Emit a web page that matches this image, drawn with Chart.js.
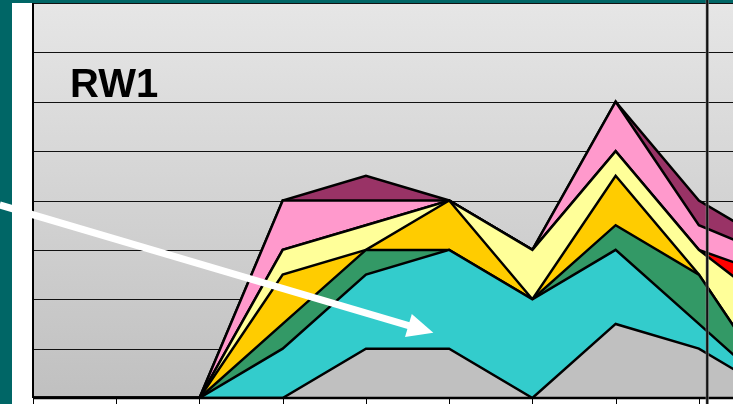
<!DOCTYPE html>
<html>
<head>
<meta charset="utf-8">
<script src="https://cdn.jsdelivr.net/npm/chart.js@4.4.0/dist/chart.umd.min.js"></script>
<style>
  body { margin: 0; background: #fff; }
  canvas { display: block; }
</style>
</head>
<body>
<canvas id="myChart" width="733" height="404"></canvas>
<script>
// positions along the x axis (only part of the last one is visible)
const periods = [0, 1, 2, 3, 4, 5, 6, 7, 8, 9];

// stacked series, bottom to top
const silverValues  = [0, 0, 0, 0,   1,   1, 0, 1.5, 1,   0];
const cyanValues    = [0, 0, 0, 1,   1.5, 2, 2, 1.5, 0.5, 0];
const greenValues   = [0, 0, 0, 0.5, 0.5, 0, 0, 0.5, 1,   0];
const goldValues    = [0, 0, 0, 1,   0,   1, 0, 1,   0,   0];
const yellowValues  = [0, 0, 0, 0.5, 0.5, 0, 1, 0.5, 0.5, 1.7];
const redValues     = [0, 0, 0, 0,   0,   0, 0, 0,   0,   0.7];
const pinkValues    = [0, 0, 0, 1,   0.5, 0, 0, 1,   0.5, 0.4];
const plumValues    = [0, 0, 0, 0,   0.5, 0, 0, 0,   0.5, 0.2];

const yTicks = [0, 1, 2, 3, 4, 5, 6, 7, 8];
const markerAt = 8.1;
const arrowFrom = { x: -0.4, y: 3.91 };
const arrowTo = { x: 4.81, y: 1.32 };
const chartTitle = 'RW1';

const initChart = () => {

  const ctxEl = document.getElementById('myChart');

  const toPoints = (values) => {
    return periods.map((p, i) => ({ x: p, y: values[i] }));
  };

  const series = [
    { label: 'Silver', data: silverValues, color: '#c0c0c0' },
    { label: 'Cyan', data: cyanValues, color: '#33cccc' },
    { label: 'Green', data: greenValues, color: '#339966' },
    { label: 'Gold', data: goldValues, color: '#ffcc00' },
    { label: 'Yellow', data: yellowValues, color: '#ffff99' },
    { label: 'Red', data: redValues, color: '#ff0000' },
    { label: 'Pink', data: pinkValues, color: '#ff99cc' },
    { label: 'Plum', data: plumValues, color: '#993366' },
  ];

  const frame = {
    id: 'frame',
    beforeDraw: (chart) => {
      const { ctx, chartArea: a, width, height } = chart;
      ctx.save();
      ctx.fillStyle = '#006666';
      ctx.fillRect(0, 0, width, height);
      ctx.fillStyle = '#ffffff';
      ctx.fillRect(12, a.top, width, height - a.top);
      const grad = ctx.createLinearGradient(0, a.top, 0, a.bottom);
      grad.addColorStop(0, '#e6e6e6');
      grad.addColorStop(1, '#c0c0c0');
      ctx.fillStyle = grad;
      ctx.fillRect(a.left, a.top, a.right - a.left, a.bottom - a.top);
      ctx.restore();
    },
    beforeDatasetsDraw: (chart) => {
      const { ctx, chartArea: a, scales } = chart;
      ctx.save();
      ctx.strokeStyle = '#111';
      ctx.lineWidth = 1;
      yTicks.forEach((t) => {
        const y = Math.round(scales.y.getPixelForValue(t)) + 0.5;
        ctx.beginPath();
        ctx.moveTo(a.left, y);
        ctx.lineTo(a.right, y);
        ctx.stroke();
      });
      ctx.restore();
    },
    afterDatasetsDraw: (chart) => {
      const { ctx, chartArea: a, scales, height } = chart;
      ctx.save();

      // axes
      ctx.strokeStyle = '#000';
      ctx.lineWidth = 2;
      ctx.beginPath();
      ctx.moveTo(a.left, a.top);
      ctx.lineTo(a.left, a.bottom);
      ctx.stroke();
      ctx.lineWidth = 2.5;
      ctx.beginPath();
      ctx.moveTo(a.left, a.bottom);
      ctx.lineTo(a.right, a.bottom);
      ctx.stroke();

      // tick marks
      ctx.lineWidth = 1;
      periods.forEach((p) => {
        const x = Math.round(scales.x.getPixelForValue(p)) + 0.5;
        ctx.beginPath();
        ctx.moveTo(x, a.bottom);
        ctx.lineTo(x, height);
        ctx.stroke();
      });

      // vertical marker
      const mx = scales.x.getPixelForValue(markerAt);
      ctx.strokeStyle = '#888';
      ctx.lineWidth = 3;
      ctx.beginPath();
      ctx.moveTo(mx, 0);
      ctx.lineTo(mx, height);
      ctx.stroke();
      ctx.strokeStyle = '#111';
      ctx.lineWidth = 2;
      ctx.stroke();

      // white arrow
      const x1 = scales.x.getPixelForValue(arrowFrom.x);
      const y1 = scales.y.getPixelForValue(arrowFrom.y);
      const x2 = scales.x.getPixelForValue(arrowTo.x);
      const y2 = scales.y.getPixelForValue(arrowTo.y);
      const ang = Math.atan2(y2 - y1, x2 - x1);
      const headLen = 26;
      const headHalf = 12;
      const bx = x2 - headLen * Math.cos(ang);
      const by = y2 - headLen * Math.sin(ang);
      ctx.strokeStyle = '#ffffff';
      ctx.fillStyle = '#ffffff';
      ctx.lineWidth = 7;
      ctx.beginPath();
      ctx.moveTo(x1, y1);
      ctx.lineTo(bx + 2 * Math.cos(ang), by + 2 * Math.sin(ang));
      ctx.stroke();
      ctx.beginPath();
      ctx.moveTo(x2, y2);
      ctx.lineTo(bx + headHalf * Math.sin(ang), by - headHalf * Math.cos(ang));
      ctx.lineTo(bx - headHalf * Math.sin(ang), by + headHalf * Math.cos(ang));
      ctx.closePath();
      ctx.fill();

      // title
      ctx.fillStyle = '#000';
      ctx.font = 'bold 40px "Liberation Sans", Arial, sans-serif';
      ctx.textBaseline = 'alphabetic';
      ctx.fillText(chartTitle, 70, 97);

      ctx.restore();
    },
  };

  new Chart(ctxEl, {
    type: 'line',
    data: {
      datasets: series.map((s, i) => ({
        label: s.label,
        data: toPoints(s.data),
        backgroundColor: s.color,
        borderColor: '#000',
        borderWidth: 2.5,
        pointRadius: 0,
        tension: 0,
        fill: i === 0 ? 'origin' : '-1',
      })),
    },
    options: {
      responsive: false,
      animation: false,
      layout: { padding: { left: 33, top: 3, right: 0, bottom: 6 } },
      plugins: {
        legend: { display: false },
        tooltip: { enabled: false },
      },
      scales: {
        x: { type: 'linear', min: 0, max: 8.41, display: false },
        y: { stacked: true, min: 0, max: 8, display: false },
      },
    },
    plugins: [frame],
  });
};

initChart();
</script>
</body>
</html>
